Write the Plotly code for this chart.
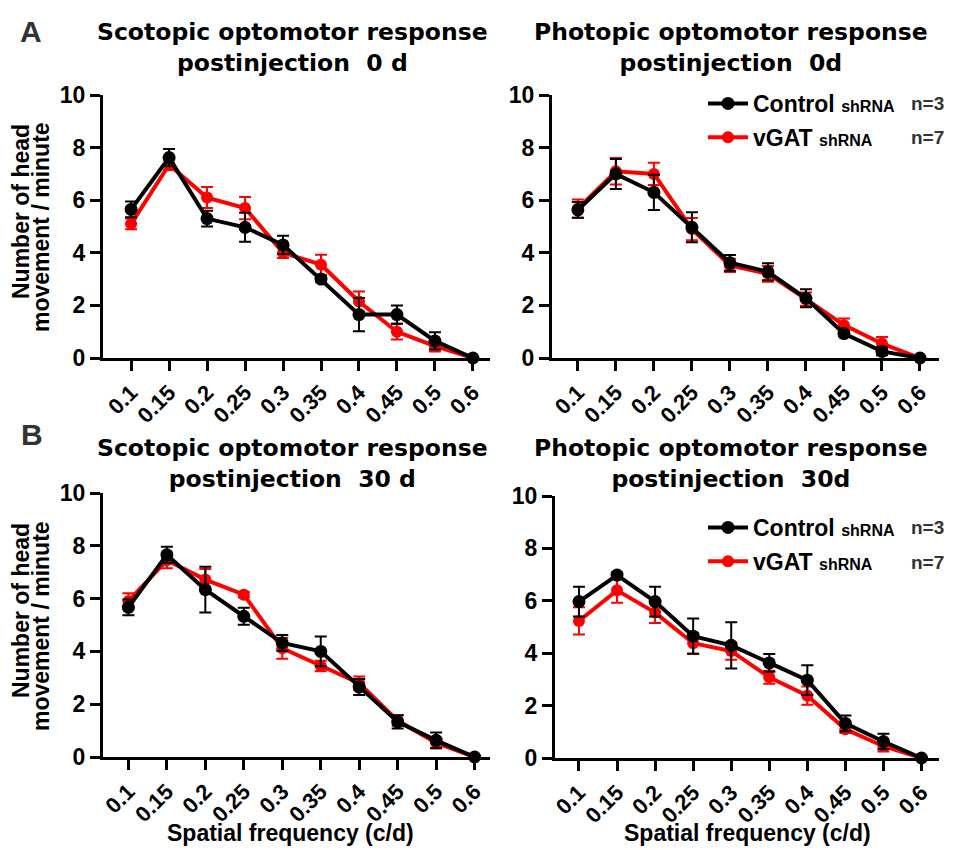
import plotly.graph_objects as go

# The page body adds an 8px offset, so the figure is 8px smaller and all
# reference pixel positions are shifted by -8 when converted to paper units.
OFF = 8
W, H = 953 - OFF, 850 - OFF

freq = ["0.1", "0.15", "0.2", "0.25", "0.3", "0.35", "0.4", "0.45", "0.5", "0.6"]
yticks = [0, 2, 4, 6, 8, 10]

# Scotopic, 0 d
scot0_ctrl = [5.65, 7.62, 5.30, 4.97, 4.30, 3.00, 1.65, 1.65, 0.65, 0.0]
scot0_ctrl_err = [0.30, 0.33, 0.30, 0.55, 0.35, 0.10, 0.63, 0.35, 0.33, 0.0]
scot0_vgat = [5.10, 7.35, 6.10, 5.70, 4.00, 3.55, 2.15, 1.00, 0.45, 0.0]
scot0_vgat_err = [0.20, 0.20, 0.40, 0.42, 0.20, 0.38, 0.38, 0.30, 0.20, 0.0]

# Photopic, 0 d
phot0_ctrl = [5.63, 7.00, 6.30, 4.97, 3.62, 3.28, 2.27, 0.93, 0.25, 0.0]
phot0_ctrl_err = [0.30, 0.57, 0.67, 0.57, 0.30, 0.32, 0.34, 0.10, 0.15, 0.0]
phot0_vgat = [5.68, 7.10, 7.00, 4.90, 3.52, 3.20, 2.24, 1.25, 0.55, 0.0]
phot0_vgat_err = [0.35, 0.50, 0.42, 0.42, 0.25, 0.30, 0.25, 0.25, 0.25, 0.0]

# Scotopic, 30 d
scot30_ctrl = [5.67, 7.66, 6.34, 5.33, 4.32, 4.00, 2.65, 1.33, 0.63, 0.0]
scot30_ctrl_err = [0.30, 0.30, 0.87, 0.32, 0.30, 0.56, 0.30, 0.25, 0.30, 0.0]
scot30_vgat = [5.90, 7.45, 6.72, 6.15, 4.12, 3.45, 2.80, 1.38, 0.53, 0.0]
scot30_vgat_err = [0.30, 0.30, 0.40, 0.10, 0.40, 0.20, 0.25, 0.20, 0.20, 0.0]

# Photopic, 30 d
phot30_ctrl = [5.97, 6.98, 5.97, 4.65, 4.30, 3.63, 2.97, 1.32, 0.63, 0.0]
phot30_ctrl_err = [0.57, 0.10, 0.57, 0.67, 0.88, 0.34, 0.57, 0.30, 0.30, 0.0]
phot30_vgat = [5.23, 6.40, 5.55, 4.38, 4.08, 3.08, 2.38, 1.10, 0.45, 0.0]
phot30_vgat_err = [0.52, 0.47, 0.40, 0.40, 0.33, 0.25, 0.35, 0.15, 0.20, 0.0]

titles = [
    "Scotopic optomotor response<br>postinjection\u00a0\u00a00 d",
    "Photopic optomotor response<br>postinjection\u00a0\u00a00d",
    "Scotopic optomotor response<br>postinjection\u00a0\u00a030 d",
    "Photopic optomotor response<br>postinjection\u00a0\u00a030d",
]
ctrl_name = "<b>Control <span style='font-size:16px'>shRNA</span></b>"
vgat_name = "<b>vGAT <span style='font-size:16px'>shRNA</span></b>"
n_labels = ["n=3", "n=7"]
ytitle_lines = ["Number of head", "movement / minute"]
xtitle = "Spatial frequency (c/d)"

FONT = "Liberation Sans, Arial, sans-serif"
TFONT = "DejaVu Sans, sans-serif"
RED = "#ff0000"
BLK = "#000000"


def px_x(p):
    return (p - OFF) / W


def px_y(p):
    return 1 - (p - OFF) / H


panels = [
    dict(x=(103, 490), y=(358, 95), xr=(-0.74, 9.45),
         c=scot0_ctrl, ce=scot0_ctrl_err, v=scot0_vgat, ve=scot0_vgat_err, leg=None),
    dict(x=(552, 939), y=(358, 95), xr=(-0.68, 9.5),
         c=phot0_ctrl, ce=phot0_ctrl_err, v=phot0_vgat, ve=phot0_vgat_err, leg="legend"),
    dict(x=(103, 490), y=(757, 493), xr=(-0.66, 9.4),
         c=scot30_ctrl, ce=scot30_ctrl_err, v=scot30_vgat, ve=scot30_vgat_err, leg=None),
    dict(x=(555, 939), y=(758, 496), xr=(-0.63, 9.46),
         c=phot30_ctrl, ce=phot30_ctrl_err, v=phot30_vgat, ve=phot30_vgat_err, leg="legend2"),
]

fig = go.Figure()
layout = {}
for i, p in enumerate(panels):
    n = "" if i == 0 else str(i + 1)
    xa, ya = "x" + n, "y" + n
    show = p["leg"] is not None
    legname = p["leg"] if show else "legend"
    fig.add_trace(go.Scatter(
        x=freq, y=p["v"], xaxis=xa, yaxis=ya, mode="lines+markers",
        name=vgat_name, legend=legname, showlegend=show, legendrank=2,
        legendgroup="v" + n,
        line=dict(color=RED, width=4), marker=dict(color=RED, size=12),
        error_y=dict(type="data", array=p["ve"], color=RED, thickness=2, width=6),
        cliponaxis=False))
    fig.add_trace(go.Scatter(
        x=freq, y=p["c"], xaxis=xa, yaxis=ya, mode="lines+markers",
        name=ctrl_name, legend=legname, showlegend=show, legendrank=1,
        legendgroup="c" + n,
        line=dict(color=BLK, width=4), marker=dict(color=BLK, size=13),
        error_y=dict(type="data", array=p["ce"], color=BLK, thickness=2, width=6),
        cliponaxis=False))
    layout["xaxis" + n] = dict(
        domain=[px_x(p["x"][0]), px_x(p["x"][1])], anchor=ya,
        type="category", range=list(p["xr"]), tickvals=freq, ticktext=freq,
        showline=True, linecolor="black", linewidth=3,
        ticks="outside", ticklen=10, tickwidth=3, tickcolor="black",
        tickangle=-45, showgrid=False, zeroline=False, automargin=False,
        tickfont=dict(family=FONT, size=22, color="black", weight="bold"))
    layout["yaxis" + n] = dict(
        domain=[px_y(p["y"][0]), px_y(p["y"][1])], anchor=xa,
        range=[0, 10], tickvals=yticks,
        showline=True, linecolor="black", linewidth=3,
        ticks="outside", ticklen=10, tickwidth=3, tickcolor="black",
        showgrid=False, zeroline=False, automargin=False,
        tickfont=dict(family=FONT, size=23, color="black", weight="bold"))

ann = []
# panel titles
title_pos = [(292, 16), (731, 16), (292, 432), (731, 432)]
for t, (cx, ty) in zip(titles, title_pos):
    ann.append(dict(text="<b>" + t + "</b>", x=px_x(cx), y=px_y(ty), xref="paper", yref="paper",
                    xanchor="center", yanchor="top", showarrow=False, align="center",
                    font=dict(family=TFONT, size=23.5, color="black")))
# panel letters
for lab, (cx, cy) in [("A", (31, 32)), ("B", (32, 434))]:
    ann.append(dict(text="<b>" + lab + "</b>", x=px_x(cx), y=px_y(cy), xref="paper", yref="paper",
                    xanchor="center", yanchor="middle", showarrow=False,
                    font=dict(family=FONT, size=30, color="#333333")))
# y axis titles (two lines placed separately for tight line spacing)
for base in [0, 399]:
    for line, (cx, cy) in zip(ytitle_lines, [(21, 212), (41, 227)]):
        ann.append(dict(text="<b>" + line + "</b>", x=px_x(cx), y=px_y(cy + base),
                        xref="paper", yref="paper", xanchor="center", yanchor="middle",
                        showarrow=False, textangle=-90,
                        font=dict(family=FONT, size=23, color="black")))
# x axis titles
for cx in [290, 747]:
    ann.append(dict(text="<b>" + xtitle + "</b>", x=px_x(cx), y=px_y(833),
                    xref="paper", yref="paper", xanchor="center", yanchor="middle",
                    showarrow=False, font=dict(family=FONT, size=23, color="black")))
# n labels
for lab, cy in [(n_labels[0], 103), (n_labels[1], 138), (n_labels[0], 527), (n_labels[1], 562)]:
    ann.append(dict(text="<b>" + lab + "</b>", x=px_x(909), y=px_y(cy), xref="paper", yref="paper",
                    xanchor="left", yanchor="middle", showarrow=False,
                    font=dict(family=FONT, size=19, color="#333333")))

legend_common = dict(xanchor="left", yanchor="top", itemwidth=40, tracegroupgap=1,
                     bgcolor="rgba(0,0,0,0)", borderwidth=0,
                     font=dict(family=FONT, size=23, color="black"))
layout["legend"] = dict(x=px_x(703), y=px_y(82), **legend_common)
layout["legend2"] = dict(x=px_x(703), y=px_y(506), **legend_common)

fig.update_layout(
    width=W, height=H, margin=dict(l=0, r=0, t=0, b=0, autoexpand=False),
    paper_bgcolor="white", plot_bgcolor="white",
    annotations=ann, **layout)

fig.write_html("out.html")
